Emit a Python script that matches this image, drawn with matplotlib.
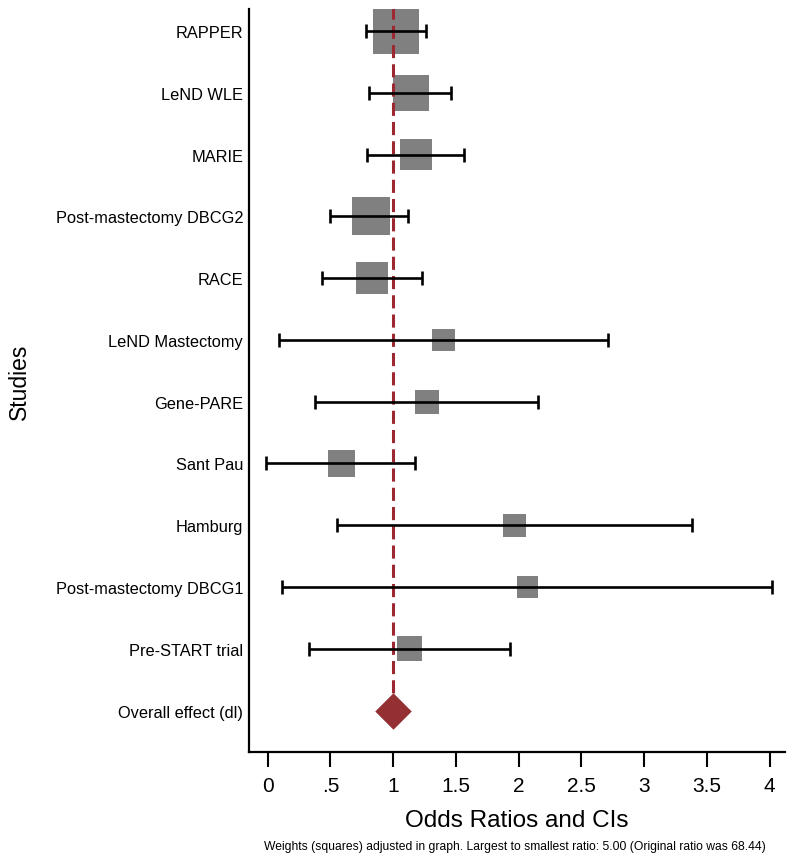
import numpy as np
import matplotlib
matplotlib.use('Agg')
from matplotlib import pyplot as plt
from matplotlib.ticker import FixedLocator, FixedFormatter

plt.rcParams['font.family'] = ['Liberation Sans', 'DejaVu Sans']

studies = ['RAPPER', 'LeND WLE', 'MARIE', 'Post-mastectomy DBCG2', 'RACE',
           'LeND Mastectomy', 'Gene-PARE', 'Sant Pau', 'Hamburg',
           'Post-mastectomy DBCG1', 'Pre-START trial']
odds_ratio = [1.02, 1.14, 1.18, 0.82, 0.83, 1.40, 1.27, 0.59, 1.97, 2.07, 1.13]
ci_low = [0.78, 0.81, 0.79, 0.50, 0.43, 0.09, 0.38, -0.01, 0.55, 0.11, 0.33]
ci_high = [1.26, 1.46, 1.56, 1.12, 1.23, 2.71, 2.15, 1.17, 3.38, 4.02, 1.93]
weights = [21.2, 12.7, 10.2, 14.4, 10.0, 5.0, 5.8, 7.3, 5.3, 4.8, 6.1]
overall_label = 'Overall effect (dl)'
overall_or = 1.0

x_ticks = [0, 0.5, 1, 1.5, 2, 2.5, 3, 3.5, 4]
x_tick_labels = ['0', '.5', '1', '1.5', '2', '2.5', '3', '3.5', '4']

SQUARE_GREY = '#808080'
LINE_RED = '#9e2832'
DIAMOND_RED = '#943034'


def main():
    fig = plt.figure(figsize=(8.0, 8.62), dpi=100)
    ax = fig.add_axes([0.311, 0.1265, 0.67, 0.8615])

    rows = np.arange(len(studies))
    overall_row = len(studies)

    # weight squares (area proportional to weight)
    ax.scatter(odds_ratio, rows, s=np.array(weights) * 51.8, marker='s',
               color=SQUARE_GREY, linewidths=0, zorder=2)

    # null line
    ax.plot([overall_or, overall_or], [-0.4, overall_row], color=LINE_RED,
            lw=2.2, linestyle=(0, (4.3, 2.0)), zorder=3)

    # confidence intervals
    ax.errorbar(odds_ratio, rows,
                xerr=[np.subtract(odds_ratio, ci_low), np.subtract(ci_high, odds_ratio)],
                fmt='none', ecolor='black', elinewidth=1.9, capsize=5, capthick=1.9,
                zorder=4)

    # overall effect diamond
    ax.scatter([overall_or], [overall_row], s=345, marker='D', color=DIAMOND_RED,
               linewidths=0, zorder=5)

    ax.set_xlim(-0.151, 4.12)
    ax.set_ylim(overall_row + 0.67, -0.35)

    ax.xaxis.set_major_locator(FixedLocator(x_ticks))
    ax.xaxis.set_major_formatter(FixedFormatter(x_tick_labels))
    ax.set_yticks(list(rows) + [overall_row])
    ax.set_yticklabels(studies + [overall_label], fontsize=11.8)

    ax.tick_params(axis='x', length=10.5, width=1.5, labelsize=15, pad=7)
    ax.tick_params(axis='y', length=0, pad=4)

    for side in ('top', 'right'):
        ax.spines[side].set_visible(False)
    for side in ('left', 'bottom'):
        ax.spines[side].set_linewidth(1.6)

    ax.set_xlabel('Odds Ratios and CIs', fontsize=17.5, labelpad=10)
    ax.set_ylabel('Studies', fontsize=16.5, labelpad=18)

    fig.text(0.644, 0.0175, 'Weights (squares) adjusted in graph. Largest to smallest ratio: 5.00 '
             '(Original ratio was 68.44)', ha='center', va='center', fontsize=8.7)

    fig.savefig('out.png', dpi=100)


if __name__ == '__main__':
    main()
